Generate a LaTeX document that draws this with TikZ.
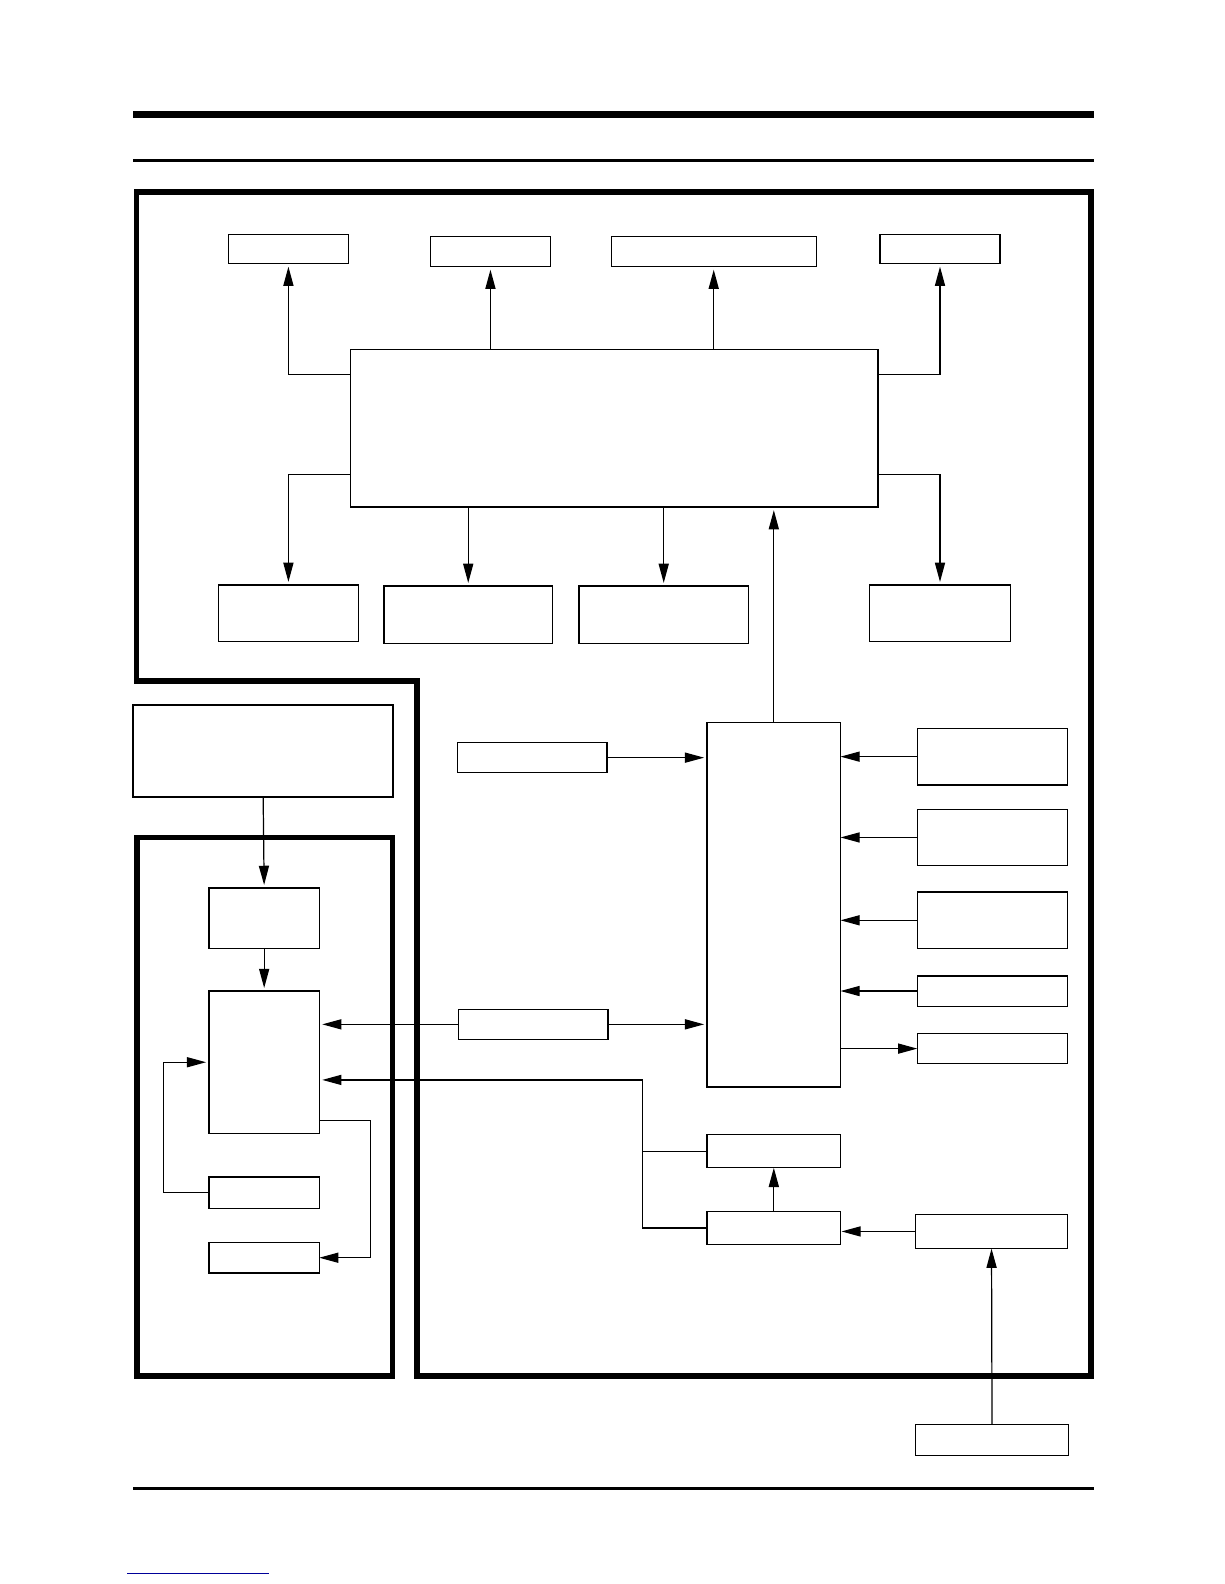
\documentclass[tikz,border=0pt]{standalone}
\usepackage{tikz}
\usetikzlibrary{arrows.meta,positioning,calc}

\begin{document}
\begin{tikzpicture}[
  x=1pt, y=-1pt,
  blk/.style={draw, line width=1.3pt, rectangle, inner sep=0pt, outer sep=0pt},
  arr/.style={-{Triangle[length=19pt,width=10pt]}, line width=1.2pt, shorten >=3pt},
  wire/.style={line width=1.2pt},
  frame/.style={line width=5.5pt, line join=miter},
  rule/.style={line width=#1}
]
\useasboundingbox (0,0) rectangle (1212,1568);

% page rules
\draw[rule=7pt] (132,113) -- (1083,113);
\draw[rule=3.5pt] (132,159) -- (1083,159);
\draw[rule=3pt] (132,1473) -- (1083,1473);
\draw[line width=1pt, blue!60!black] (126,1558) -- (266,1558);

% frames
\draw[frame] (135,190) -- (1080,190) -- (1080,1362) -- (413,1362) -- (413,674) -- (135,674) -- cycle;
\draw[frame] (135.5,829) rectangle (388.5,1362);

% upper block
\node[blk, minimum width=522pt, minimum height=156pt] (main) at (608,424) {};

\node[blk, minimum width=119pt, minimum height=29pt] (t1) at (285.5,246.5) {};
\node[blk, minimum width=119pt, minimum height=30pt] (t2) at (485.5,249) {};
\node[blk, minimum width=203pt, minimum height=30pt] (t3) at (706.5,249) {};
\node[blk, minimum width=119pt, minimum height=29pt] (t4) at (930.5,246.5) {};

\node[blk, minimum width=139pt, minimum height=56pt] (b1) at (285.5,607) {};
\node[blk, minimum width=167pt, minimum height=57pt] (b2) at (463.5,608.5) {};
\node[blk, minimum width=168pt, minimum height=57pt] (b3) at (657,608.5) {};
\node[blk, minimum width=139pt, minimum height=56pt] (b4) at (930.5,607) {};

\draw[arr] ([yshift=53pt]main.west) -| (t1.south);
\draw[arr] (t2 |- main.north) -- (t2.south);
\draw[arr] (t3 |- main.north) -- (t3.south);
\draw[arr] ([yshift=53pt]main.east) -| (t4.south);

\draw[arr] ([yshift=-46pt]main.west) -| (b1.north);
\draw[arr] (b2 |- main.south) -- (b2.north);
\draw[arr] (b3 |- main.south) -- (b3.north);
\draw[arr] ([yshift=-46pt]main.east) -| (b4.north);

% controller column
\node[blk, minimum width=132pt, minimum height=361pt] (ctrl) at (766,895.5) {};
\node[blk, minimum width=148pt, minimum height=30pt] (inp) at (527,750) {};
\node[blk, minimum width=148pt, minimum height=30pt] (mid) at (528,1014) {};

\node[blk, minimum width=149pt, minimum height=56pt] (r1) at (982.5,749) {};
\node[blk, minimum width=149pt, minimum height=56pt] (r2) at (982.5,829) {};
\node[blk, minimum width=149pt, minimum height=56pt] (r3) at (982.5,911) {};
\node[blk, minimum width=149pt, minimum height=30pt] (r4) at (982.5,981) {};
\node[blk, minimum width=149pt, minimum height=30pt] (r5) at (982.5,1038) {};

\draw[arr] (ctrl.north) -- (ctrl.north |- main.south);
\draw[arr] (inp.east) -- (inp.east -| ctrl.west);
\draw[arr] (mid.east) -- (mid.east -| ctrl.west);
\draw[arr, shorten >=0pt] (r1.west) -- (r1.west -| ctrl.east);
\draw[arr, shorten >=0pt] (r2.west) -- (r2.west -| ctrl.east);
\draw[arr, shorten >=0pt] (r3.west) -- (r3.west -| ctrl.east);
\draw[arr, shorten >=0pt] (r4.west) -- (r4.west -| ctrl.east);
\draw[arr, shorten >=0pt] (r5.west -| ctrl.east) -- (r5.west);

% lower right
\node[blk, minimum width=132pt, minimum height=33pt] (s1) at (766,1139.5) {};
\node[blk, minimum width=132pt, minimum height=33pt] (s2) at (766,1215.5) {};
\node[blk, minimum width=151pt, minimum height=34pt] (pw) at (981.5,1219) {};
\node[blk, minimum width=152pt, minimum height=31pt] (src) at (982,1425.5) {};

\draw[arr, shorten >=0pt] (s2.north) -- (s1.south);
\draw[arr, shorten >=1pt] (pw.west) -- (pw.west -| s2.east);
\draw[arr, shorten >=0pt] (src.north) -- (pw.south);

% left block
\node[blk, line width=1.8pt, minimum width=257pt, minimum height=91pt] (top) at (260.5,743.5) {};
\node[blk, minimum width=109pt, minimum height=60pt] (a1) at (261.5,909) {};
\node[blk, minimum width=109pt, minimum height=141pt] (dsp) at (261.5,1051.5) {};
\node[blk, minimum width=109pt, minimum height=31pt] (e1) at (261.5,1180.5) {};
\node[blk, minimum width=109pt, minimum height=30pt] (e2) at (261.5,1245) {};

\draw[arr] (top.south) -- (a1.north);
\draw[arr] (a1.south) -- (dsp.north);
\draw[arr] (mid.west) -- (mid.west -| dsp.east);
\draw[arr] (e1.west) -- ++(-45,0) |- (dsp.west);
\draw[arr, shorten >=0pt] ([yshift=-57.5pt]dsp.east) -- ++(51,0) |- (e2.east);

\coordinate (bus) at (636,1069);
\draw[arr] (s2.west) -| (bus) -- ([yshift=-17.5pt]dsp.east);
\draw[wire] (s1.west) -- (s1.west -| bus);

\end{tikzpicture}
\end{document}
